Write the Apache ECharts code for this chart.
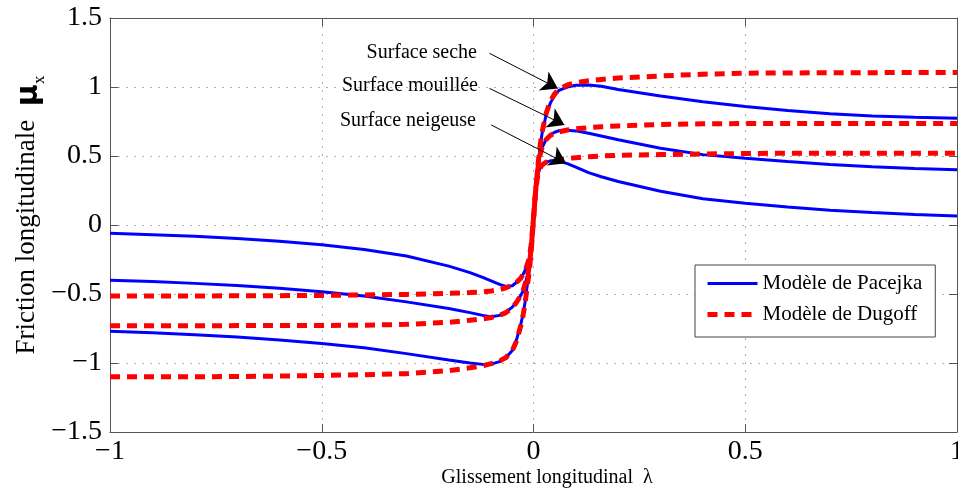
<!DOCTYPE html>
<html>
<head>
<meta charset="utf-8">
<script src="https://cdn.jsdelivr.net/npm/echarts@6/dist/echarts.min.js"></script>
<style>
html,body{margin:0;padding:0;background:#fff;}
#chart{width:958px;height:495px;}
</style>
</head>
<body>
<div id="chart"></div>
<script>
// Longitudinal slip (x values, shared by all series)
const lambda = [-1, -0.9, -0.8, -0.7, -0.6, -0.5, -0.4, -0.3, -0.2, -0.15, -0.12, -0.1, -0.08, -0.065, -0.05, -0.04, -0.03, -0.025, -0.02, -0.015, -0.01, -0.005,
  0, 0.005, 0.01, 0.015, 0.02, 0.03, 0.04, 0.05, 0.06, 0.08, 0.1, 0.13, 0.16, 0.2, 0.3, 0.4, 0.5, 0.6, 0.7, 0.8, 0.9, 1];

// Pacejka model
const pacejkaSeche = [-0.77, -0.78, -0.795, -0.812, -0.833, -0.858, -0.89, -0.932, -0.978, -1.0, -1.01, -1.008, -0.99, -0.96, -0.91, -0.83, -0.72, -0.65, -0.56, -0.44, -0.33, -0.16,
  0.05, 0.25, 0.42, 0.55, 0.66, 0.8, 0.885, 0.94, 0.975, 1.0, 1.012, 1.015, 1.005, 0.982, 0.935, 0.893, 0.858, 0.83, 0.807, 0.79, 0.78, 0.773];
const pacejkaMouillee = [-0.40, -0.41, -0.423, -0.438, -0.458, -0.483, -0.515, -0.557, -0.605, -0.635, -0.655, -0.665, -0.655, -0.63, -0.595, -0.556, -0.51, -0.48, -0.43, -0.37, -0.3, -0.15,
  0.05, 0.25, 0.4, 0.5, 0.56, 0.62, 0.655, 0.672, 0.683, 0.687, 0.682, 0.665, 0.645, 0.618, 0.556, 0.51, 0.484, 0.46, 0.438, 0.422, 0.409, 0.40];
const pacejkaNeigeuse = [-0.06, -0.07, -0.082, -0.097, -0.117, -0.143, -0.178, -0.225, -0.298, -0.345, -0.38, -0.405, -0.43, -0.445, -0.44, -0.415, -0.38, -0.36, -0.33, -0.29, -0.24, -0.13,
  0.05, 0.25, 0.36, 0.41, 0.435, 0.455, 0.465, 0.467, 0.463, 0.445, 0.42, 0.38, 0.35, 0.315, 0.245, 0.19, 0.158, 0.13, 0.107, 0.09, 0.076, 0.065];

// Dugoff model
const dugoffSeche = [-1.1, -1.1, -1.1, -1.098, -1.095, -1.09, -1.085, -1.077, -1.055, -1.035, -1.02, -1.005, -0.985, -0.96, -0.91, -0.84, -0.73, -0.66, -0.57, -0.45, -0.34, -0.17,
  0.04, 0.24, 0.42, 0.56, 0.67, 0.81, 0.9, 0.95, 0.985, 1.015, 1.03, 1.045, 1.055, 1.065, 1.08, 1.093, 1.1, 1.102, 1.103, 1.104, 1.105, 1.105];
const dugoffMouillee = [-0.73, -0.73, -0.73, -0.729, -0.729, -0.728, -0.726, -0.72, -0.705, -0.69, -0.68, -0.67, -0.655, -0.635, -0.6, -0.56, -0.51, -0.48, -0.43, -0.37, -0.3, -0.15,
  0.05, 0.25, 0.4, 0.5, 0.56, 0.62, 0.65, 0.665, 0.675, 0.688, 0.697, 0.705, 0.712, 0.718, 0.728, 0.733, 0.735, 0.735, 0.735, 0.735, 0.735, 0.735];
const dugoffNeigeuse = [-0.515, -0.515, -0.514, -0.513, -0.512, -0.51, -0.507, -0.503, -0.495, -0.49, -0.485, -0.478, -0.468, -0.455, -0.435, -0.415, -0.385, -0.36, -0.33, -0.29, -0.24, -0.13,
  0.05, 0.25, 0.36, 0.41, 0.435, 0.455, 0.465, 0.47, 0.475, 0.482, 0.488, 0.495, 0.5, 0.505, 0.51, 0.515, 0.518, 0.52, 0.52, 0.52, 0.52, 0.52];

const xTicks = [-1, -0.5, 0, 0.5, 1];
const yTicks = [-1.5, -1, -0.5, 0, 0.5, 1, 1.5];
const surfaceLabels = ['Surface seche', 'Surface mouillée', 'Surface neigeuse'];
const legendNames = ['Modèle de Pacejka', 'Modèle de Dugoff'];

const SERIF = "'Liberation Serif','Times New Roman',serif";
const fmt = v => String(v).replace('-', '\u2212');
const pairs = arr => lambda.map((l, i) => [l, arr[i]]);

const gridLine = { show: true, lineStyle: { color: '#b0b0b0', width: 1, type: [2, 6] } };
const axisLineStyle = { show: true, onZero: false, lineStyle: { color: '#555', width: 1 } };
const tickStyle = { show: true, inside: true, length: 8, lineStyle: { color: '#555' } };

function pac(arr) {
  return { name: legendNames[0], type: 'line', data: pairs(arr), showSymbol: false, symbol: 'none',
    lineStyle: { color: '#0000ff', width: 3 }, itemStyle: { color: '#0000ff' }, z: 2, animation: false };
}
function dug(arr) {
  return { name: legendNames[1], type: 'line', data: pairs(arr), showSymbol: false, symbol: 'none',
    lineStyle: { color: '#ff0000', width: 5, type: [10, 7] }, itemStyle: { color: '#ff0000' }, z: 3, animation: false };
}

const series = [
  pac(pacejkaSeche), pac(pacejkaMouillee), pac(pacejkaNeigeuse),
  dug(dugoffSeche), dug(dugoffMouillee), dug(dugoffNeigeuse)
];
series.push({
  name: 'arrows', type: 'line', data: [], z: 5, animation: false,
  markLine: {
    silent: true, animation: false,
    symbol: ['none', 'arrow'], symbolSize: 16,
    label: { show: false },
    lineStyle: { color: '#000', width: 1, type: 'solid' },
    data: [
      [{ coord: [-0.104, 1.244] }, { coord: [0.0575, 0.99] }],
      [{ coord: [-0.104, 0.99] }, { coord: [0.073, 0.725] }],
      [{ coord: [-0.1, 0.725] }, { coord: [0.077, 0.447] }]
    ]
  }
});

const chart = echarts.init(document.getElementById('chart'), null, { renderer: 'canvas' });
chart.setOption({
  animation: false,
  backgroundColor: '#fff',
  grid: { left: 110, right: 1, top: 18, bottom: 63, containLabel: false, outerBoundsMode: 'none' },
  xAxis: [
    { type: 'value', position: 'bottom', min: -1, max: 1, interval: 0.5,
      axisLine: axisLineStyle, axisTick: tickStyle, splitLine: gridLine,
      axisLabel: { show: true, margin: 6, fontSize: 28, fontFamily: SERIF, color: '#000', formatter: fmt,
        showMinLabel: true, showMaxLabel: true } },
    { type: 'value', position: 'top', min: -1, max: 1, interval: 0.5,
      axisLine: axisLineStyle, axisTick: tickStyle, splitLine: { show: false }, axisLabel: { show: false } }
  ],
  yAxis: [
    { type: 'value', position: 'left', min: -1.5, max: 1.5, interval: 0.5,
      axisLine: axisLineStyle, axisTick: tickStyle, splitLine: gridLine,
      axisLabel: { show: true, margin: 8, fontSize: 28, fontFamily: SERIF, color: '#000', formatter: fmt,
        showMinLabel: true, showMaxLabel: true } },
    { type: 'value', position: 'right', min: -1.5, max: 1.5, interval: 0.5,
      axisLine: axisLineStyle, axisTick: tickStyle, splitLine: { show: false }, axisLabel: { show: false } }
  ],
  legend: {
    data: legendNames, orient: 'vertical', left: 695, top: 265,
    backgroundColor: '#fff', borderColor: '#444', borderWidth: 1, borderRadius: 0,
    padding: [8, 13, 12, 10], itemWidth: 50, itemHeight: 14, itemGap: 10,
    itemStyle: { opacity: 0 },
    lineStyle: { width: 'inherit', type: 'inherit' },
    textStyle: { fontSize: 21, fontFamily: SERIF, color: '#000', lineHeight: 21 },
    selectedMode: false
  },
  graphic: [
    { type: 'text', x: 477, y: 53, silent: true,
      style: { text: surfaceLabels[0], fontSize: 20, fontFamily: SERIF, fill: '#000', align: 'right', verticalAlign: 'middle' } },
    { type: 'text', x: 478, y: 86, silent: true,
      style: { text: surfaceLabels[1], fontSize: 20, fontFamily: SERIF, fill: '#000', align: 'right', verticalAlign: 'middle' } },
    { type: 'text', x: 476, y: 121, silent: true,
      style: { text: surfaceLabels[2], fontSize: 20, fontFamily: SERIF, fill: '#000', align: 'right', verticalAlign: 'middle' } },
    { type: 'text', x: 547, y: 478, silent: true,
      style: { text: 'Glissement longitudinal  λ', fontSize: 20, fontFamily: SERIF, fill: '#000', align: 'center', verticalAlign: 'middle' } },
    { type: 'text', x: 27, y: 215, rotation: Math.PI / 2, silent: true,
      style: {
        text: 'Friction longitudinale  {mu|μ}{sub|x}', fontSize: 27, fontFamily: SERIF, fill: '#000',
        align: 'center', verticalAlign: 'middle',
        rich: {
          mu: { fontSize: 30, fontWeight: 'bold', fontFamily: "'DejaVu Sans',sans-serif", fill: '#000', lineHeight: 34, verticalAlign: 'bottom' },
          sub: { fontSize: 17, fontFamily: SERIF, fill: '#000', lineHeight: 34, verticalAlign: 'bottom', padding: [0, 0, -4, 0] }
        }
      } }
  ],
  series: series
});
</script>
</body>
</html>
